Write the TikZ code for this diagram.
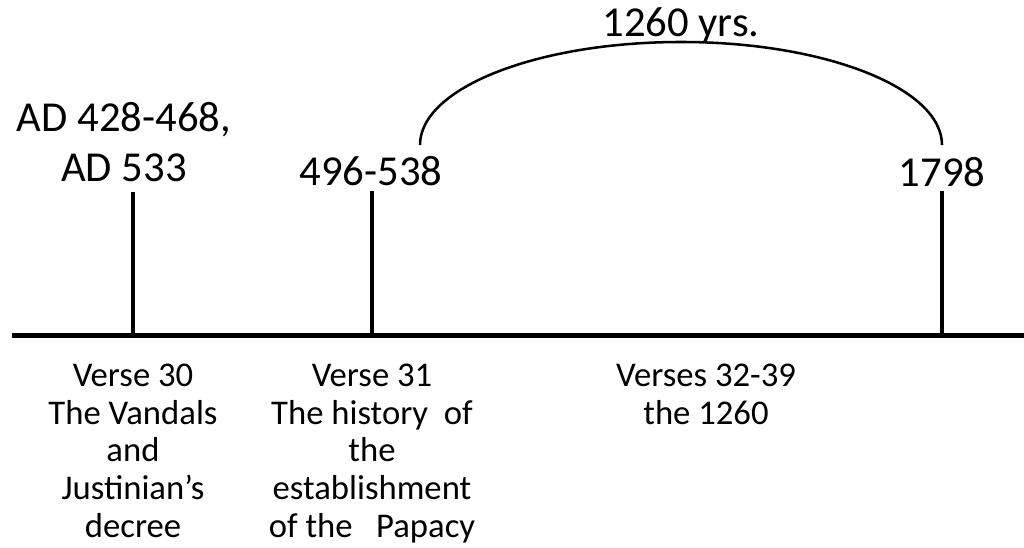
\documentclass[tikz,border=0pt]{standalone}
\usepackage{fontspec}
\setmainfont{Carlito}
\begin{document}
\begin{tikzpicture}[x=0.75pt,y=-0.75pt,
  big/.style={inner sep=0pt,font=\fontsize{32}{37.5}\selectfont,align=center},
  small/.style={inner sep=0pt,font=\fontsize{26}{28.2}\selectfont,align=center,anchor=north},
  tick/.style={line width=3pt},
  axis/.style={line width=3.75pt},
  span/.style={line width=1.9pt}]
\useasboundingbox (0,0) rectangle (1024,548);
% axis
\coordinate (L) at (12,336);
\coordinate (R) at (1024,336);
\draw[axis] (L) -- (R);
% ticks
\coordinate (t1b) at (133,336); \coordinate (t1t) at (133,192);
\coordinate (t2b) at (372,336); \coordinate (t2t) at (372,191);
\coordinate (t3b) at (942,336); \coordinate (t3t) at (942,191);
\draw[tick] (t1b) -- (t1t);
\draw[tick] (t2b) -- (t2t);
\draw[tick] (t3b) -- (t3t);
% arc
\coordinate (a1) at (420,145);
\coordinate (a2) at (942,145);
\draw[span] (a1) arc[start angle=180,end angle=360,x radius=261,y radius=103];
% labels
\node[big] (d1) at (124,142) {AD 428-468,\\AD 533};
\node[big,anchor=base] (d2) at (371,186) {496-538};
\node[big,anchor=base] (d3) at (942,187) {1798};
\node[big,anchor=base] (yrs) at (681,37) {1260 yrs.};
\node[small] (v1) at (133,364) {Verse 30\\The Vandals\\and\\Justinian’s\\decree};
\node[small] (v2) at (372,364) {Verse 31\\The history\ \ of\\the\\establishment\\of the\ \ \ Papacy};
\node[small] (v3) at (706,364) {Verses 32-39\\the 1260};
\end{tikzpicture}
\end{document}
